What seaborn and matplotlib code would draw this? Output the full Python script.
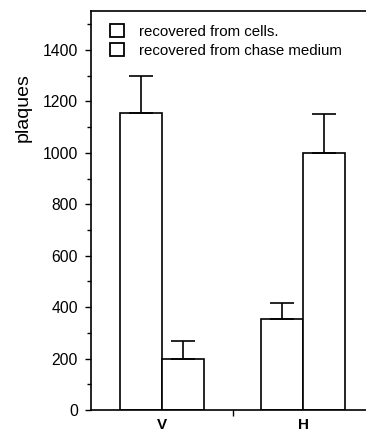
import matplotlib
matplotlib.use("Agg")
import matplotlib.pyplot as plt
import seaborn as sns
import pandas as pd
from matplotlib.ticker import MultipleLocator, FixedLocator
from matplotlib.patches import Patch

# Daten
groups = ["V", "V", "H", "H"]
sources = ["recovered from cells.", "recovered from chase medium",
           "recovered from cells.", "recovered from chase medium"]
plaques = [1155, 200, 353, 1000]
err_up = [145, 68, 62, 150]
y_ticks = [0, 200, 400, 600, 800, 1000, 1200, 1400]

df = pd.DataFrame({"group": groups, "source": sources, "plaques": plaques})

sns.set_style("ticks", {"axes.edgecolor": "black", "xtick.color": "black",
                        "ytick.color": "black", "text.color": "black",
                        "axes.labelcolor": "black"})
plt.rcParams["font.family"] = ["Liberation Sans", "DejaVu Sans"]

fig = plt.figure(figsize=(3.66, 4.32), dpi=100)
ax = fig.add_axes([91 / 366, 1 - 410 / 432, 300 / 366, 399 / 432])

sns.barplot(data=df, x="group", y="plaques", hue="source", order=["V", "H"],
            hue_order=["recovered from cells.", "recovered from chase medium"],
            width=0.6, palette=["white", "white"],
            edgecolor="black", linewidth=1.2, errorbar=None, legend=False, ax=ax)

# Fehlerbalken nur nach oben
bars = sorted([p for p in ax.patches if p.get_height() > 0], key=lambda p: p.get_x())
for p, e in zip(bars, err_up):
    xc = p.get_x() + p.get_width() / 2
    ax.errorbar(xc, p.get_height(), yerr=[[0], [e]], fmt="none",
                ecolor="black", elinewidth=1.2, capsize=8.5, capthick=1.2)

ax.set_xlim(-0.504, -0.504 + 300 / 141)
ax.set_ylim(0, 1552)
ax.set_yticks(y_ticks)
ax.yaxis.set_minor_locator(MultipleLocator(100))
ax.tick_params(axis="y", which="major", length=4.3, width=1, labelsize=11.3,
               pad=5, direction="out", colors="black")
ax.tick_params(axis="y", which="minor", length=3, width=1, direction="out")

ax.set_xticks([0, 1])
ax.set_xticklabels(["V", "H"], fontweight="bold", fontsize=11)
ax.tick_params(axis="x", which="major", length=0, pad=6, colors="black")
ax.xaxis.set_minor_locator(FixedLocator([0.5]))
ax.tick_params(axis="x", which="minor", length=4, width=1)

ax.set_xlabel("")
ax.set_ylabel("plaques", fontsize=14, color="black")
ax.yaxis.set_label_coords(-0.197, 0.757)

for s in ax.spines.values():
    s.set_linewidth(1.2)
    s.set_color("black")

handles = [Patch(facecolor="white", edgecolor="black", linewidth=1.3),
           Patch(facecolor="white", edgecolor="black", linewidth=1.3)]
ax.legend(handles, ["recovered from cells.", "recovered from chase medium"],
          loc="upper left", bbox_to_anchor=(0.032, 0.99), frameon=False,
          fontsize=10.8, handlelength=0.95, handleheight=0.95, handletextpad=1.0,
          labelspacing=0.3, borderaxespad=0.2, labelcolor="black")

fig.savefig("out.png", dpi=100)
